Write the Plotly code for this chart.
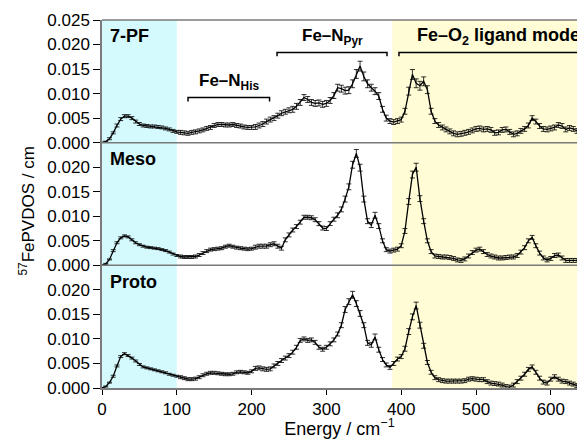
import plotly.graph_objects as go

# ---------------- data ----------------
ENERGY = [
    0, 5, 10, 15, 20, 25, 30, 35, 40, 45, 50, 55, 60, 65, 70, 75,
    80, 85, 90, 95, 100, 105, 110, 115, 120, 125, 130, 135, 140, 145, 150, 155,
    160, 165, 170, 175, 180, 185, 190, 195, 200, 205, 210, 215, 220, 225, 230, 235,
    240, 245, 250, 255, 260, 265, 270, 275, 280, 285, 290, 295, 300, 305, 310, 315,
    320, 325, 330, 335, 340, 345, 350, 355, 360, 365, 370, 375, 380, 385, 390, 395,
    400, 405, 410, 415, 420, 425, 430, 435, 440, 445, 450, 455, 460, 465, 470, 475,
    480, 485, 490, 495, 500, 505, 510, 515, 520, 525, 530, 535, 540, 545, 550, 555,
    560, 565, 570, 575, 580, 585, 590, 595, 600, 605, 610, 615, 620, 625, 630, 635,
]

PVDOS_7PF = [
    0.0000, 0.0002, 0.0008, 0.0020, 0.0035, 0.0048, 0.0054, 0.0054, 0.0050, 0.0043, 0.0038, 0.0035, 0.0034, 0.0033, 0.0033, 0.0032,
    0.0031, 0.0029, 0.0027, 0.0024, 0.0022, 0.0021, 0.0020, 0.0019, 0.0021, 0.0022, 0.0024, 0.0026, 0.0029, 0.0031, 0.0035, 0.0037,
    0.0037, 0.0036, 0.0036, 0.0037, 0.0035, 0.0034, 0.0032, 0.0031, 0.0031, 0.0032, 0.0035, 0.0038, 0.0043, 0.0047, 0.0050, 0.0055,
    0.0060, 0.0063, 0.0066, 0.0068, 0.0074, 0.0082, 0.0092, 0.0088, 0.0082, 0.0080, 0.0081, 0.0078, 0.0080, 0.0086, 0.0096, 0.0112,
    0.0110, 0.0106, 0.0107, 0.0120, 0.0140, 0.0156, 0.0135, 0.0120, 0.0112, 0.0105, 0.0095, 0.0068, 0.0050, 0.0044, 0.0042, 0.0044,
    0.0047, 0.0064, 0.0105, 0.0139, 0.0121, 0.0116, 0.0125, 0.0108, 0.0064, 0.0044, 0.0036, 0.0031, 0.0027, 0.0023, 0.0019, 0.0017,
    0.0018, 0.0020, 0.0022, 0.0025, 0.0028, 0.0029, 0.0027, 0.0028, 0.0026, 0.0020, 0.0021, 0.0026, 0.0027, 0.0022, 0.0017, 0.0019,
    0.0024, 0.0028, 0.0035, 0.0050, 0.0043, 0.0034, 0.0028, 0.0027, 0.0029, 0.0031, 0.0036, 0.0034, 0.0027, 0.0030, 0.0028, 0.0024,
]
ERR_7PF = [
    0.0001, 0.0001, 0.0002, 0.0002, 0.0003, 0.0003, 0.0003, 0.0003, 0.0003, 0.0003, 0.0003, 0.0003, 0.0003, 0.0003, 0.0003, 0.0003,
    0.0003, 0.0003, 0.0003, 0.0003, 0.0003, 0.0004, 0.0004, 0.0004, 0.0004, 0.0004, 0.0004, 0.0004, 0.0004, 0.0004, 0.0004, 0.0004,
    0.0004, 0.0004, 0.0004, 0.0004, 0.0004, 0.0004, 0.0004, 0.0004, 0.0004, 0.0005, 0.0005, 0.0005, 0.0005, 0.0005, 0.0005, 0.0005,
    0.0005, 0.0005, 0.0005, 0.0006, 0.0006, 0.0006, 0.0006, 0.0006, 0.0006, 0.0006, 0.0006, 0.0006, 0.0006, 0.0006, 0.0006, 0.0007,
    0.0007, 0.0007, 0.0007, 0.0008, 0.0009, 0.0010, 0.0009, 0.0008, 0.0007, 0.0007, 0.0007, 0.0006, 0.0006, 0.0005, 0.0005, 0.0005,
    0.0005, 0.0006, 0.0008, 0.0010, 0.0009, 0.0009, 0.0009, 0.0008, 0.0006, 0.0005, 0.0005, 0.0005, 0.0005, 0.0005, 0.0005, 0.0005,
    0.0005, 0.0005, 0.0005, 0.0005, 0.0005, 0.0005, 0.0005, 0.0005, 0.0005, 0.0005, 0.0005, 0.0005, 0.0005, 0.0005, 0.0005, 0.0005,
    0.0005, 0.0005, 0.0005, 0.0005, 0.0005, 0.0005, 0.0005, 0.0005, 0.0005, 0.0005, 0.0005, 0.0005, 0.0005, 0.0005, 0.0005, 0.0005,
]

PVDOS_MESO = [
    0.0000, 0.0003, 0.0012, 0.0030, 0.0046, 0.0056, 0.0060, 0.0058, 0.0052, 0.0046, 0.0042, 0.0039, 0.0037, 0.0036, 0.0035, 0.0034,
    0.0032, 0.0030, 0.0027, 0.0023, 0.0020, 0.0018, 0.0017, 0.0017, 0.0017, 0.0018, 0.0021, 0.0025, 0.0029, 0.0032, 0.0033, 0.0034,
    0.0035, 0.0038, 0.0040, 0.0038, 0.0036, 0.0035, 0.0034, 0.0033, 0.0034, 0.0037, 0.0039, 0.0039, 0.0039, 0.0042, 0.0044, 0.0039,
    0.0035, 0.0052, 0.0062, 0.0072, 0.0079, 0.0088, 0.0098, 0.0098, 0.0097, 0.0093, 0.0085, 0.0076, 0.0075, 0.0085, 0.0094, 0.0102,
    0.0114, 0.0135, 0.0160, 0.0205, 0.0228, 0.0199, 0.0135, 0.0090, 0.0082, 0.0102, 0.0080, 0.0050, 0.0032, 0.0029, 0.0031, 0.0033,
    0.0040, 0.0070, 0.0130, 0.0185, 0.0200, 0.0136, 0.0090, 0.0050, 0.0028, 0.0019, 0.0018, 0.0017, 0.0017, 0.0016, 0.0014, 0.0011,
    0.0010, 0.0013, 0.0019, 0.0026, 0.0031, 0.0033, 0.0028, 0.0022, 0.0019, 0.0017, 0.0015, 0.0015, 0.0016, 0.0017, 0.0017, 0.0020,
    0.0027, 0.0036, 0.0050, 0.0057, 0.0040, 0.0025, 0.0015, 0.0011, 0.0014, 0.0020, 0.0021, 0.0015, 0.0010, 0.0010, 0.0010, 0.0010,
]
ERR_MESO = [
    0.0001, 0.0001, 0.0001, 0.0002, 0.0002, 0.0002, 0.0002, 0.0002, 0.0002, 0.0002, 0.0002, 0.0002, 0.0002, 0.0002, 0.0002, 0.0002,
    0.0002, 0.0002, 0.0002, 0.0002, 0.0002, 0.0003, 0.0003, 0.0003, 0.0003, 0.0003, 0.0003, 0.0003, 0.0003, 0.0003, 0.0003, 0.0003,
    0.0003, 0.0003, 0.0003, 0.0003, 0.0003, 0.0003, 0.0003, 0.0003, 0.0003, 0.0004, 0.0004, 0.0004, 0.0004, 0.0004, 0.0004, 0.0004,
    0.0004, 0.0004, 0.0004, 0.0004, 0.0004, 0.0004, 0.0004, 0.0004, 0.0004, 0.0004, 0.0004, 0.0004, 0.0004, 0.0004, 0.0004, 0.0005,
    0.0005, 0.0006, 0.0006, 0.0007, 0.0008, 0.0007, 0.0006, 0.0005, 0.0005, 0.0006, 0.0005, 0.0004, 0.0004, 0.0004, 0.0004, 0.0004,
    0.0004, 0.0005, 0.0006, 0.0007, 0.0008, 0.0006, 0.0005, 0.0004, 0.0004, 0.0004, 0.0004, 0.0004, 0.0004, 0.0004, 0.0004, 0.0004,
    0.0004, 0.0004, 0.0004, 0.0004, 0.0004, 0.0004, 0.0004, 0.0004, 0.0004, 0.0004, 0.0004, 0.0004, 0.0004, 0.0004, 0.0004, 0.0004,
    0.0004, 0.0004, 0.0004, 0.0004, 0.0004, 0.0004, 0.0004, 0.0004, 0.0004, 0.0004, 0.0004, 0.0004, 0.0004, 0.0004, 0.0004, 0.0004,
]

PVDOS_PROTO = [
    0.0000, 0.0003, 0.0011, 0.0024, 0.0045, 0.0064, 0.0070, 0.0066, 0.0061, 0.0055, 0.0048, 0.0043, 0.0041, 0.0039, 0.0037, 0.0035,
    0.0033, 0.0031, 0.0028, 0.0026, 0.0024, 0.0022, 0.0020, 0.0018, 0.0018, 0.0019, 0.0022, 0.0026, 0.0029, 0.0031, 0.0031, 0.0030,
    0.0029, 0.0028, 0.0028, 0.0029, 0.0032, 0.0033, 0.0032, 0.0031, 0.0034, 0.0040, 0.0041, 0.0039, 0.0038, 0.0039, 0.0045, 0.0050,
    0.0056, 0.0061, 0.0066, 0.0073, 0.0083, 0.0097, 0.0100, 0.0097, 0.0098, 0.0093, 0.0083, 0.0079, 0.0083, 0.0090, 0.0098, 0.0110,
    0.0128, 0.0160, 0.0176, 0.0190, 0.0172, 0.0152, 0.0128, 0.0092, 0.0088, 0.0104, 0.0078, 0.0058, 0.0047, 0.0042, 0.0050, 0.0059,
    0.0064, 0.0080, 0.0115, 0.0145, 0.0168, 0.0128, 0.0086, 0.0052, 0.0032, 0.0021, 0.0017, 0.0015, 0.0014, 0.0014, 0.0014, 0.0014,
    0.0014, 0.0015, 0.0018, 0.0019, 0.0018, 0.0017, 0.0017, 0.0013, 0.0010, 0.0009, 0.0008, 0.0006, 0.0003, 0.0002, 0.0006, 0.0013,
    0.0020, 0.0028, 0.0038, 0.0043, 0.0032, 0.0020, 0.0012, 0.0010, 0.0018, 0.0023, 0.0018, 0.0014, 0.0013, 0.0010, 0.0008, 0.0005,
]
ERR_PROTO = [
    0.0001, 0.0001, 0.0001, 0.0002, 0.0002, 0.0002, 0.0002, 0.0002, 0.0002, 0.0002, 0.0002, 0.0002, 0.0002, 0.0002, 0.0002, 0.0002,
    0.0002, 0.0002, 0.0002, 0.0002, 0.0002, 0.0003, 0.0003, 0.0003, 0.0003, 0.0003, 0.0003, 0.0003, 0.0003, 0.0003, 0.0003, 0.0003,
    0.0003, 0.0003, 0.0003, 0.0003, 0.0003, 0.0003, 0.0003, 0.0003, 0.0003, 0.0004, 0.0004, 0.0004, 0.0004, 0.0004, 0.0004, 0.0004,
    0.0004, 0.0004, 0.0004, 0.0004, 0.0004, 0.0004, 0.0004, 0.0004, 0.0004, 0.0004, 0.0004, 0.0004, 0.0004, 0.0004, 0.0004, 0.0004,
    0.0005, 0.0006, 0.0006, 0.0007, 0.0006, 0.0006, 0.0005, 0.0005, 0.0005, 0.0006, 0.0005, 0.0004, 0.0004, 0.0004, 0.0004, 0.0004,
    0.0004, 0.0005, 0.0006, 0.0006, 0.0007, 0.0006, 0.0005, 0.0004, 0.0004, 0.0004, 0.0004, 0.0004, 0.0004, 0.0004, 0.0004, 0.0004,
    0.0004, 0.0004, 0.0004, 0.0004, 0.0004, 0.0004, 0.0004, 0.0004, 0.0004, 0.0004, 0.0004, 0.0004, 0.0004, 0.0004, 0.0004, 0.0004,
    0.0004, 0.0004, 0.0004, 0.0004, 0.0004, 0.0004, 0.0004, 0.0004, 0.0004, 0.0004, 0.0004, 0.0004, 0.0004, 0.0004, 0.0004, 0.0004,
]

PANEL_NAMES = ["7-PF", "Meso", "Proto"]
X_TICKS = [0, 100, 200, 300, 400, 500, 600]
Y_TICKS_TOP = [0.000, 0.005, 0.010, 0.015, 0.020, 0.025]
Y_TICKS = [0.000, 0.005, 0.010, 0.015, 0.020]

# shaded regions (cm-1)
CYAN_REGION = [0, 100]
YELLOW_REGION = [388, 640]

# brackets in the top panel
BRACKET_LABELS = ["Fe–N<sub>His</sub>", "Fe–N<sub>Pyr</sub>", "Fe–O<sub>2</sub> ligand modes"]
BRACKET_START = [115, 234, 397]
BRACKET_END = [224, 381, 700]
BRACKET_LEVEL = [0.0092, 0.0184, 0.0184]

# ---------------- figure ----------------
FONT = "Liberation Sans, Arial, Helvetica, sans-serif"
W, H = 577, 439
fig = go.Figure()

series = [(PVDOS_7PF, ERR_7PF, "y3"), (PVDOS_MESO, ERR_MESO, "y2"), (PVDOS_PROTO, ERR_PROTO, "y")]
for (vals, errs, yax), name in zip(series, PANEL_NAMES):
    fig.add_trace(go.Scatter(
        x=ENERGY, y=vals, xaxis="x", yaxis=yax, name=name,
        mode="lines", line=dict(color="#000000", width=1.3),
        error_y=dict(type="data", array=errs, visible=True,
                     color="rgba(0,0,0,0.8)", thickness=1, width=2.5),
        showlegend=False, cliponaxis=False,
    ))

shapes = []
shapes.append(dict(type="rect", xref="x", yref="paper", x0=CYAN_REGION[0], x1=CYAN_REGION[1],
                   y0=0, y1=1, fillcolor="#d5fafd", line=dict(width=0), layer="below"))
shapes.append(dict(type="rect", xref="x", yref="paper", x0=YELLOW_REGION[0], x1=YELLOW_REGION[1],
                   y0=0, y1=1, fillcolor="#fffcd6", line=dict(width=0), layer="below"))
for yp in [1 / 3, 2 / 3, 1.0]:
    shapes.append(dict(type="line", xref="paper", yref="paper", x0=0, x1=1, y0=yp, y1=yp,
                       line=dict(color="#7a7a7a", width=1.5)))

annotations = []
drop = 0.0008
for s, e, lvl in zip(BRACKET_START, BRACKET_END, BRACKET_LEVEL):
    shapes.append(dict(type="path", xref="x", yref="y3",
                       path=f"M {s},{lvl - drop} L {s},{lvl} L {e},{lvl} L {e},{lvl - drop}",
                       line=dict(color="#000000", width=1.5)))
label_font = dict(family=FONT, size=17, color="#000")
annotations.append(dict(x=(BRACKET_START[0] + BRACKET_END[0]) / 2, y=BRACKET_LEVEL[0] + 0.0005,
                        xref="x", yref="y3", text="<b>" + BRACKET_LABELS[0] + "</b>",
                        showarrow=False, xanchor="center", yanchor="bottom", font=label_font))
annotations.append(dict(x=(BRACKET_START[1] + BRACKET_END[1]) / 2, y=BRACKET_LEVEL[1] + 0.0005,
                        xref="x", yref="y3", text="<b>" + BRACKET_LABELS[1] + "</b>",
                        showarrow=False, xanchor="center", yanchor="bottom", font=label_font))
annotations.append(dict(x=BRACKET_START[2] + 22, y=BRACKET_LEVEL[2] + 0.0005,
                        xref="x", yref="y3", text="<b>" + BRACKET_LABELS[2] + "</b>",
                        showarrow=False, xanchor="left", yanchor="bottom",
                        font=dict(family=FONT, size=18, color="#000")))

for name, yref in zip(PANEL_NAMES, ["y3", "y2", "y"]):
    annotations.append(dict(x=8, y=0.0217, xref="x", yref=yref, text="<b>" + name + "</b>",
                            showarrow=False, xanchor="left", yanchor="middle",
                            font=dict(family=FONT, size=18, color="#000")))

annotations.append(dict(x=-0.158, y=0.482, xref="paper", yref="paper",
                        text="<sup>57</sup>FePVDOS / cm", textangle=-90, showarrow=False,
                        xanchor="center", yanchor="middle",
                        font=dict(family=FONT, size=17, color="#000")))

yaxis_common = dict(range=[0, 0.025], showline=True, linecolor="#7a7a7a", linewidth=1.5,
                    ticks="outside", ticklen=7, tickwidth=1, tickcolor="#000",
                    tickformat=".3f", showgrid=False, zeroline=False,
                    tickfont=dict(family=FONT, size=17, color="#000"), anchor="x")

fig.update_layout(
    width=W, height=H,
    margin=dict(l=102, r=0, t=20, b=51, autoexpand=False),
    paper_bgcolor="white", plot_bgcolor="rgba(0,0,0,0)",
    font=dict(family=FONT, color="#000"),
    xaxis=dict(range=[0, 635], showline=True, linecolor="#7a7a7a", linewidth=1.5,
               ticks="outside", ticklen=5, tickwidth=1, tickcolor="#000",
               tickvals=X_TICKS, showgrid=False, zeroline=False,
               tickfont=dict(family=FONT, size=17, color="#000"),
               title=dict(text="Energy / cm<sup>−1</sup>", standoff=0,
                          font=dict(family=FONT, size=18, color="#000")),
               anchor="y"),
    yaxis=dict(domain=[0, 1 / 3], tickvals=Y_TICKS, **yaxis_common),
    yaxis2=dict(domain=[1 / 3, 2 / 3], tickvals=Y_TICKS, **yaxis_common),
    yaxis3=dict(domain=[2 / 3, 1], tickvals=Y_TICKS_TOP, **yaxis_common),
    shapes=shapes,
    annotations=annotations,
)

fig.write_html("out.html", config={"displayModeBar": False},
               post_script="document.body.style.margin='0';document.body.style.padding='0';")
